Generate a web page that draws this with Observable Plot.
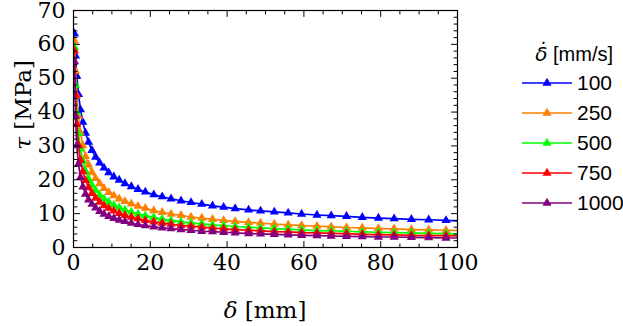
<!DOCTYPE html>
<html><head><meta charset="utf-8">
<script src="https://cdn.jsdelivr.net/npm/d3@7"></script>
<script src="https://cdn.jsdelivr.net/npm/@observablehq/plot@0.6"></script>
<style>
body{margin:0;background:#fff;}
#wrap{width:623px;height:326px;}
</style>
</head><body><div id="wrap"></div>
<script>
// displacement delta [mm] (marker positions)
const delta = [0.26, 0.52, 0.86, 1.30, 1.82, 2.43, 3.13, 3.92, 4.80, 5.76, 6.81, 7.95, 9.18, 10.5, 11.9, 13.4, 15.05, 16.8, 18.7, 20.9, 23.1, 25.4, 28.0, 30.6, 33.4, 36.2, 39.1, 42.1, 45.6, 48.7, 52.3, 55.9, 59.4, 63.4, 67.1, 71.1, 75.2, 79.4, 83.5, 88.0, 92.5, 97.0, 101.6];
// shear stress tau [MPa] per loading rate
const tau100  = [63.1, 56.6, 50.6, 45.2, 40.7, 37.0, 33.8, 31.1, 28.7, 26.7, 25.0, 23.5, 22.1, 20.9, 19.9, 18.9, 18.0, 17.2, 16.4, 15.6, 15.0, 14.4, 13.8, 13.3, 12.8, 12.3, 11.9, 11.5, 11.1, 10.8, 10.5, 10.2, 9.9, 9.6, 9.4, 9.2, 8.9, 8.7, 8.5, 8.3, 8.2, 8.0, 7.8];
const tau250  = [61.0, 52.1, 44.8, 38.7, 33.9, 30.1, 26.9, 24.4, 22.2, 20.4, 18.9, 17.5, 16.3, 15.3, 14.4, 13.6, 12.9, 12.2, 11.6, 10.9, 10.4, 9.9, 9.5, 9.0, 8.7, 8.3, 8.0, 7.7, 7.4, 7.2, 6.9, 6.7, 6.5, 6.3, 6.1, 5.9, 5.8, 5.6, 5.5, 5.3, 5.2, 5.1, 5.0];
const tau500  = [59.1, 48.0, 39.9, 33.7, 29.1, 25.5, 22.6, 20.3, 18.4, 16.9, 15.5, 14.4, 13.4, 12.5, 11.8, 11.1, 10.5, 9.9, 9.4, 8.9, 8.4, 8.0, 7.6, 7.3, 7.0, 6.7, 6.5, 6.2, 6.0, 5.8, 5.6, 5.4, 5.2, 5.0, 4.9, 4.8, 4.6, 4.5, 4.4, 4.3, 4.2, 4.1, 4.0];
const tau750  = [58.1, 45.0, 36.4, 30.2, 25.8, 22.4, 19.8, 17.7, 16.0, 14.6, 13.4, 12.4, 11.6, 10.8, 10.1, 9.5, 9.0, 8.5, 8.0, 7.6, 7.2, 6.9, 6.5, 6.3, 6.0, 5.7, 5.5, 5.3, 5.1, 4.9, 4.7, 4.6, 4.4, 4.3, 4.2, 4.1, 3.9, 3.8, 3.7, 3.6, 3.5, 3.5, 3.4];
const tau1000 = [54.9, 38.9, 30.1, 24.6, 20.7, 17.9, 15.8, 14.1, 12.8, 11.7, 10.7, 9.9, 9.2, 8.6, 8.1, 7.7, 7.2, 6.8, 6.5, 6.1, 5.8, 5.6, 5.3, 5.1, 4.8, 4.7, 4.5, 4.3, 4.1, 4.0, 3.9, 3.7, 3.6, 3.5, 3.4, 3.3, 3.2, 3.1, 3.1, 3.0, 2.9, 2.8, 2.8];

const rates = ["100", "250", "500", "750", "1000"];
const colors = ["#0000ff", "#ff8000", "#00ff00", "#ff0000", "#800080"];
const xMajor = [0, 20, 40, 60, 80, 100];
const xMinor = [5, 10, 15, 25, 30, 35, 45, 50, 55, 65, 70, 75, 85, 90, 95];
const yMajor = [0, 10, 20, 30, 40, 50, 60, 70];
const yMinor = [2, 4, 6, 8, 12, 14, 16, 18, 22, 24, 26, 28, 32, 34, 36, 38, 42, 44, 46, 48, 52, 54, 56, 58, 62, 64, 66, 68];

const series = [tau100, tau250, tau500, tau750, tau1000];

const W = 623, H = 326, ML = 73, MR = 166, MT = 10, MB = 79;
const tickShape = {draw(ctx, l) { ctx.moveTo(0, 0); ctx.lineTo(0, -l); }};
const serif = "DejaVu Serif";
const sans = "Liberation Sans";
const TS = "23px";

function ticks(vals, len, side) {
  const o = {length: len, anchor: "start", shape: tickShape, stroke: "black", strokeWidth: 1};
  if (side === "bottom") return Plot.vector(vals, {...o, x: d => d, y: () => 0, rotate: 0});
  if (side === "top") return Plot.vector(vals, {...o, x: d => d, y: () => 70, rotate: 180});
  if (side === "left") return Plot.vector(vals, {...o, y: d => d, x: () => 0, rotate: 90});
  return Plot.vector(vals, {...o, y: d => d, x: () => 100, rotate: 270});
}

const marks = [];
series.forEach((s, i) => {
  const rows = s.map((t, j) => ({delta: delta[j], tau: t, rate: rates[i]}));
  marks.push(Plot.line(rows, {x: "delta", y: "tau", stroke: colors[i], strokeWidth: 1.7, clip: true}));
  marks.push(Plot.dot(rows, {x: "delta", y: "tau", symbol: "triangle", r: 3.4, fill: colors[i], stroke: "none", clip: true}));
});
for (const side of ["bottom", "top"]) { marks.push(ticks(xMajor, 6, side)); marks.push(ticks(xMinor, 3.5, side)); }
for (const side of ["left", "right"]) { marks.push(ticks(yMajor, 6, side)); marks.push(ticks(yMinor, 3.5, side)); }
marks.push(Plot.frame({stroke: "black", strokeWidth: 1.2}));
// tick labels
marks.push(Plot.text(xMajor, {x: d => d, y: () => 0, text: d => String(d), dy: 7, lineAnchor: "top",
  fontFamily: serif, fontSize: 22, fill: "black", clip: false}));
marks.push(Plot.text(yMajor, {y: d => d, x: () => 0, text: d => String(d), dx: -8, textAnchor: "end",
  fontFamily: serif, fontSize: 22, fill: "black", clip: false}));

const svg = Plot.plot({
  width: W, height: H,
  marginLeft: ML, marginRight: MR, marginTop: MT, marginBottom: MB,
  x: {domain: [0, 100], axis: null},
  y: {domain: [0, 70], axis: null},
  style: {background: "white", color: "black", overflow: "visible"},
  marks
});
document.getElementById("wrap").appendChild(svg);

const s = d3.select(svg);

// axis titles
const xt = s.append("text").attr("x", ML + (W - ML - MR) / 2).attr("y", 318)
  .attr("text-anchor", "middle").attr("font-family", serif).attr("font-size", TS).attr("fill", "black");
xt.append("tspan").attr("font-style", "italic").text("δ");
xt.append("tspan").text(" [mm]");
const yt = s.append("text").attr("transform", "translate(31,105) rotate(-90)")
  .attr("text-anchor", "middle").attr("font-family", serif).attr("font-size", TS).attr("fill", "black");
yt.append("tspan").attr("font-style", "italic").text("τ");
yt.append("tspan").text(" [MPa]");

// legend
const lt = s.append("text").attr("x", 613).attr("y", 61).attr("text-anchor", "end")
  .attr("font-family", sans).attr("font-size", "20px").attr("fill", "black");
lt.append("tspan").attr("font-style", "italic").attr("font-family", "DejaVu Sans").text("δ\u0307");
lt.append("tspan").text(" [mm/s]");
const ly = [83, 113, 143, 173, 203];
const tri = d3.symbol(d3.symbolTriangle, 3.4 * 3.4 * Math.PI)();
rates.forEach((r, i) => {
  const g = s.append("g").attr("transform", `translate(0,${ly[i]})`);
  g.append("line").attr("x1", 522).attr("x2", 572).attr("y1", 0).attr("y2", 0)
    .attr("stroke", colors[i]).attr("stroke-width", 1.7);
  g.append("path").attr("d", tri).attr("transform", "translate(547,0)").attr("fill", colors[i]);
  g.append("text").attr("x", 577).attr("y", 0).attr("dy", "0.35em").attr("text-anchor", "start")
    .attr("font-family", sans).attr("font-size", "21px").attr("fill", "black").text(r);
});
</script>
</body></html>
